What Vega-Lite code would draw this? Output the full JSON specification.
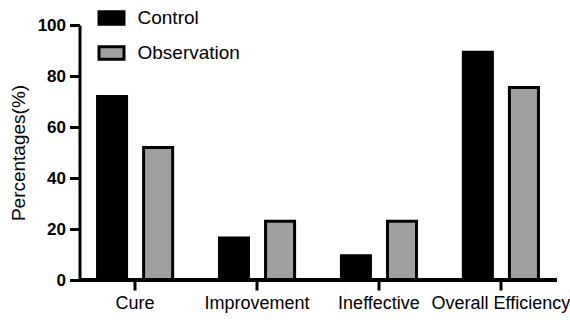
{
  "$schema": "https://vega.github.io/schema/vega-lite/v6.json",
  "width": 477,
  "height": 255,
  "padding": {"left": 8.5, "top": 4, "right": 2, "bottom": 4},
  "background": "white",
  "config": {
    "view": {"stroke": null},
    "font": "Liberation Sans",
    "axis": {"grid": false}
  },
  "data": {
    "values": [
      {"category": "Cure", "group": "Control", "value": 72},
      {"category": "Cure", "group": "Observation", "value": 52},
      {"category": "Improvement", "group": "Control", "value": 16.5},
      {"category": "Improvement", "group": "Observation", "value": 23},
      {"category": "Ineffective", "group": "Control", "value": 9.5},
      {"category": "Ineffective", "group": "Observation", "value": 23},
      {"category": "Overall Efficiency", "group": "Control", "value": 89.3},
      {"category": "Overall Efficiency", "group": "Observation", "value": 75.5}
    ]
  },
  "layer": [
    {
      "mark": {"type": "bar", "stroke": "black", "strokeWidth": 3},
      "encoding": {
        "x": {
          "field": "category",
          "type": "nominal",
          "sort": null,
          "scale": {"paddingInner": 0.384, "paddingOuter": 0.148},
          "axis": {
            "title": null,
            "labelAngle": 0,
            "labelFontSize": 18,
            "labelColor": "black",
            "labelPadding": 4,
            "tickSize": 10,
            "domainColor": "#000000",
            "domainWidth": 3,
            "tickColor": "#000000",
            "tickWidth": 3
          }
        },
        "xOffset": {
          "field": "group",
          "type": "nominal",
          "scale": {"paddingInner": 0.37, "paddingOuter": 0}
        },
        "y": {
          "field": "value",
          "type": "quantitative",
          "scale": {"domain": [0, 100], "nice": false},
          "axis": {
            "title": "Percentages(%)",
            "titleFontSize": 19,
            "titleFontWeight": "normal",
            "titleColor": "black",
            "titlePadding": 9,
            "values": [0, 20, 40, 60, 80, 100],
            "labelFontSize": 17,
            "labelFontWeight": "bold",
            "labelColor": "black",
            "labelPadding": 4,
            "tickSize": 10,
            "domainColor": "#000000",
            "domainWidth": 3,
            "tickColor": "#000000",
            "tickWidth": 3
          }
        },
        "fill": {
          "field": "group",
          "type": "nominal",
          "scale": {"domain": ["Control", "Observation"], "range": ["#000000", "#a0a0a2"]},
          "legend": {
            "title": null,
            "orient": "none",
            "legendX": 18,
            "legendY": -21,
            "symbolType": "M-1,-0.5H1V0.5H-1Z",
            "symbolSize": 625,
            "symbolStrokeColor": "black",
            "symbolStrokeWidth": 3,
            "symbolOpacity": 1,
            "labelFontSize": 19,
            "labelColor": "black",
            "labelOffset": 12,
            "rowPadding": 8
          }
        }
      }
    },
    {
      "mark": {"type": "rule", "color": "black", "strokeWidth": 3},
      "encoding": {"y": {"datum": 0}}
    }
  ]
}
